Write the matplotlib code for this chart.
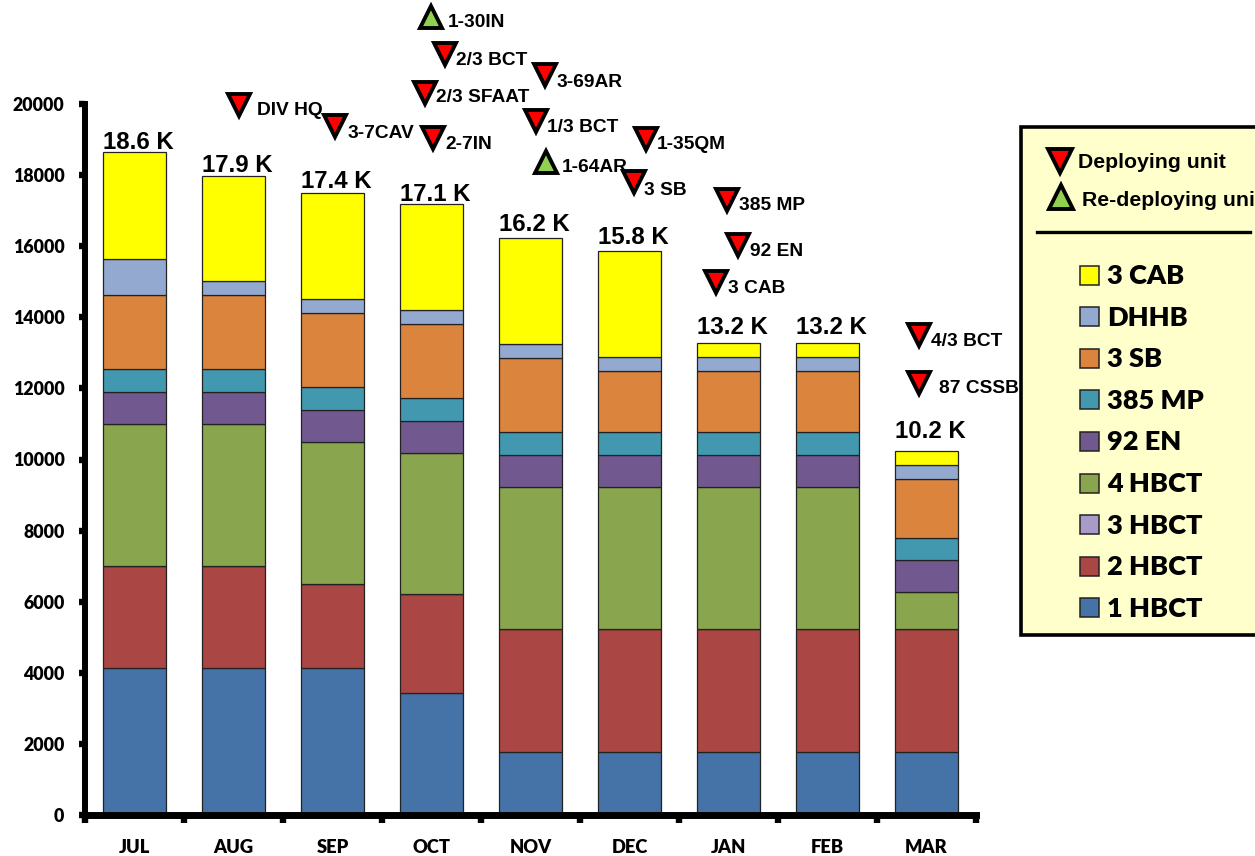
import matplotlib
matplotlib.use("Agg")
import matplotlib.pyplot as plt
from matplotlib.patches import Rectangle
import numpy as np

months = ["JUL", "AUG", "SEP", "OCT", "NOV", "DEC", "JAN", "FEB", "MAR"]
totals = ["18.6 K", "17.9 K", "17.4 K", "17.1 K", "16.2 K", "15.8 K", "13.2 K", "13.2 K", "10.2 K"]

hbct_1 = [4130, 4130, 4130, 3430, 1770, 1770, 1770, 1770, 1770]
hbct_2 = [2870, 2870, 2370, 2790, 3460, 3460, 3460, 3460, 3460]
hbct_3 = [0, 0, 0, 0, 0, 0, 0, 0, 0]
hbct_4 = [4000, 4000, 4000, 3960, 4000, 4000, 4000, 4000, 1040]
en_92 = [900, 900, 900, 900, 900, 900, 900, 900, 900]
mp_385 = [650, 650, 650, 650, 650, 650, 650, 650, 620]
sb_3 = [2070, 2070, 2070, 2070, 2070, 1700, 1700, 1700, 1660]
dhhb = [1020, 400, 400, 400, 400, 400, 400, 400, 400]
cab_3 = [3000, 2960, 2970, 2990, 2990, 2990, 400, 400, 400]

series = [
    ("1 HBCT", hbct_1, "#4572A7"),
    ("2 HBCT", hbct_2, "#AA4643"),
    ("3 HBCT", hbct_3, "#A99BC8"),
    ("4 HBCT", hbct_4, "#89A54E"),
    ("92 EN", en_92, "#71588F"),
    ("385 MP", mp_385, "#4198AF"),
    ("3 SB", sb_3, "#DB843D"),
    ("DHHB", dhhb, "#93A9CF"),
    ("3 CAB", cab_3, "#FFFF00"),
]

# unit markers, in data units: name, month position, strength level
unit_names = ["1-30IN", "2/3 BCT", "3-69AR", "2/3 SFAAT", "DIV HQ", "3-7CAV", "2-7IN", "1/3 BCT",
              "1-35QM", "1-64AR", "3 SB", "385 MP", "92 EN", "3 CAB", "4/3 BCT", "87 CSSB"]
unit_pos = [3.00, 3.14, 4.15, 2.93, 1.06, 2.03, 3.02, 4.06, 5.17, 4.16, 5.05, 5.98, 6.10, 5.87, 7.92, 7.92]
unit_level = [22450, 21400, 20820, 20320, 19970, 19370, 19040, 19520, 19020, 18370, 17800, 17300, 16030, 14980, 13500, 12150]
unit_up = ["1-30IN", "1-64AR"]
unit_label_dx = [16, 11, 11, 11, 18, 12, 12, 11, 10, 15, 10, 12, 12, 12, 12, 20]
unit_label_dy = [-6, -6, -8, -5, -5, -7, -6, -6, -6, -6, -8, -6, -6, -6, -6, -5]

total_gap = [3, 4, 5, 3, 7, 7, 9, 9, 13]

W, H = 1255, 856
plt.rcParams["font.family"] = ["Liberation Sans", "DejaVu Sans"]

fig = plt.figure(figsize=(W / 100, H / 100), dpi=100)
ax = fig.add_axes([85 / W, (H - 815) / H, (976 - 85) / W, (815 - 104) / H])

x = np.arange(len(months))
bottom = np.zeros(len(months))
for name, vals, col in series:
    ax.bar(x, vals, 0.636, bottom=bottom, color=col, edgecolor="#222222", linewidth=0.9, zorder=2)
    bottom = bottom + np.array(vals)

for i, label in enumerate(totals):
    ax.annotate(label, (x[i], bottom[i]), xytext=(3, total_gap[i] * 0.72), textcoords="offset points",
                ha="center", va="baseline", fontsize=17.3, fontweight="bold", annotation_clip=False)

for name, pos, level, dx, dy in zip(unit_names, unit_pos, unit_level, unit_label_dx, unit_label_dy):
    up = name in unit_up
    ax.plot([pos], [level], marker="^" if up else "v", ms=16, mfc="#92D050" if up else "#FF0000",
            mec="black", mew=2.8, clip_on=False, zorder=5, ls="none")
    ax.annotate(name, (pos, level), xytext=(dx * 0.72, dy * 0.72), textcoords="offset points",
                va="center", ha="left", fontsize=13.8, fontweight="bold", annotation_clip=False, zorder=6)

ax.set_xlim(-0.5, 8.5)
ax.set_ylim(0, 20000)
ax.set_yticks(range(0, 20001, 2000))
ax.set_xticks(np.arange(-0.5, 9, 1))
ax.set_xticklabels([])
ax.set_xticks(x, minor=True)
ax.set_xticklabels(months, minor=True, family="Lato", fontweight="heavy", fontsize=13.2)
ax.tick_params(axis="x", which="minor", length=0, pad=17)
ax.tick_params(axis="x", which="major", length=5.8, width=4.6)
ax.tick_params(axis="y", length=4.3, width=4.6, pad=10.5)
for t in ax.get_yticklabels():
    t.set_family("Lato")
    t.set_fontweight("heavy")
    t.set_fontsize(12.8)
for side in ["top", "right"]:
    ax.spines[side].set_visible(False)
ax.spines["left"].set_linewidth(4.3)
ax.spines["bottom"].set_linewidth(5)
ax.spines["bottom"].set_zorder(4)

# legend panel, in pixel coordinates of the figure
lg = fig.add_axes([0, 0, 1, 1], facecolor="none")
lg.set_xlim(0, W)
lg.set_ylim(H, 0)
lg.axis("off")
lg.add_patch(Rectangle((1021, 127), 300, 508, fc="#FFFFCC", ec="black", lw=2.6))
lg.plot([1060], [161], marker="v", ms=17, mfc="#FF0000", mec="black", mew=2.8)
lg.plot([1061], [197], marker="^", ms=17, mfc="#92D050", mec="black", mew=2.8)
lg.text(1078, 162, "Deploying unit", fontsize=15.3, fontweight="bold", va="center")
lg.text(1082, 200, "Re-deploying unit", fontsize=15.3, fontweight="bold", va="center", clip_on=True)
lg.plot([1037, 1250], [232, 232], color="black", lw=2.4)

for i, (name, vals, col) in enumerate(series[::-1]):
    yc = 275 + i * 41.6
    lg.add_patch(Rectangle((1080, yc - 9.5), 19, 19, fc=col, ec="#222222", lw=1.1))
    lg.text(1107, yc + 1, name, family="Lato", fontsize=19.5, fontweight="heavy", va="center")

fig.savefig("out.png", dpi=100)
